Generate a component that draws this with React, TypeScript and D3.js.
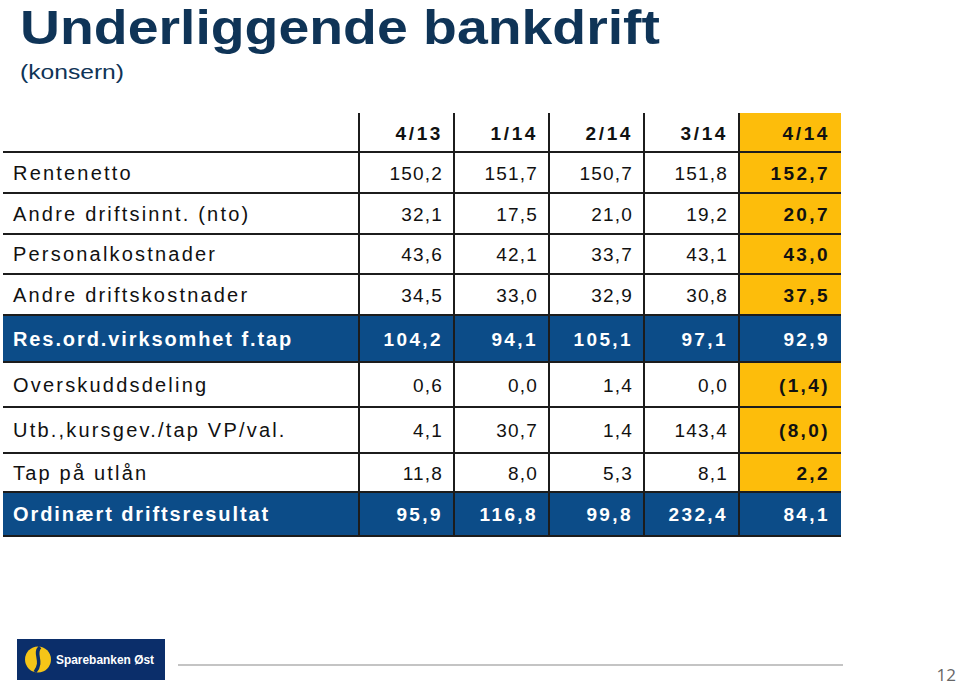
import React from "react";
import * as d3 from "d3";

const periods = ["4/13", "1/14", "2/14", "3/14", "4/14"];
const rowLabels = [
  "Rentenetto",
  "Andre driftsinnt. (nto)",
  "Personalkostnader",
  "Andre driftskostnader",
  "Res.ord.virksomhet f.tap",
  "Overskuddsdeling",
  "Utb.,kursgev./tap VP/val.",
  "Tap på utlån",
  "Ordinært driftsresultat",
];
const q413 = ["150,2", "32,1", "43,6", "34,5", "104,2", "0,6", "4,1", "11,8", "95,9"];
const q114 = ["151,7", "17,5", "42,1", "33,0", "94,1", "0,0", "30,7", "8,0", "116,8"];
const q214 = ["150,7", "21,0", "33,7", "32,9", "105,1", "1,4", "1,4", "5,3", "99,8"];
const q314 = ["151,8", "19,2", "43,1", "30,8", "97,1", "0,0", "143,4", "8,1", "232,4"];
const q414 = ["152,7", "20,7", "43,0", "37,5", "92,9", "(1,4)", "(8,0)", "2,2", "84,1"];
const highlightRows = [false, false, false, false, true, false, false, false, true];

const seriesCols = [q413, q114, q214, q314, q414];

// layout (pixels)
const rowHeights = [39, 41, 41, 40, 41, 47, 45, 46, 39, 44];
const colWidths = [95, 95, 95, 95, 102];

const NAVY = "#0c4c88";
const YELLOW = "#fdbd0b";
const TITLE = "#0f3457";
const LINE = "#1c1c1c";

export default function App() {
  const W = 959, H = 687;
  const tableLeft = 3;
  const labelRight = 359;
  const top = 113;

  const xs: number[] = [labelRight];
  colWidths.forEach((w) => xs.push(xs[xs.length - 1] + w));
  const tableRight = xs[xs.length - 1];
  const x = d3.scaleOrdinal<number, number>().domain(d3.range(periods.length + 1)).range(xs);
  const colW = (j: number) => colWidths[j];
  const lastColX = x(periods.length - 1);

  const ys: number[] = [top];
  rowHeights.forEach((h) => ys.push(ys[ys.length - 1] + h));
  const bottom = ys[ys.length - 1];

  const font = "'Liberation Sans', Arial, sans-serif";

  return (
    <svg width={W} height={H} style={{ position: "absolute", left: 0, top: 0, background: "#fff" }}>
      <rect x={0} y={0} width={W} height={H} fill="#fff" />
      <text x={20} y={44} fontFamily={font} fontWeight="bold" fontSize={49} fill={TITLE} textLength={640} lengthAdjust="spacingAndGlyphs">
        Underliggende bankdrift
      </text>
      <text x={20} y={79} fontFamily={font} fontSize={20} fill={TITLE} textLength={104} lengthAdjust="spacingAndGlyphs">
        (konsern)
      </text>

      {/* yellow highlight column */}
      <rect x={lastColX} y={top} width={colW(periods.length - 1)} height={bottom - top} fill={YELLOW} />

      {/* blue rows */}
      {rowLabels.map((_, i) =>
        highlightRows[i] ? (
          <rect key={"b" + i} x={tableLeft} y={ys[i + 1]} width={tableRight - tableLeft} height={rowHeights[i + 1]} fill={NAVY} />
        ) : null
      )}

      {/* horizontal lines */}
      {ys.slice(1).map((y, i) => (
        <line key={"h" + i} x1={tableLeft} x2={tableRight} y1={y} y2={y} stroke={LINE} strokeWidth={2} />
      ))}

      {/* vertical lines */}
      {periods.map((_, j) => (
        <line key={"v" + j} x1={x(j)} x2={x(j)} y1={top} y2={bottom} stroke={LINE} strokeWidth={2} />
      ))}

      {/* header */}
      {periods.map((p, j) => (
        <text key={"p" + j} x={x(j) + colW(j) - 11} y={top + rowHeights[0] / 2 + 7} textAnchor="end" fontFamily={font} fontWeight="bold" fontSize={19} letterSpacing={2.6} fill="#111">
          {p}
        </text>
      ))}

      {/* rows */}
      {rowLabels.map((lab, i) => {
        const y0 = ys[i + 1];
        const cy = y0 + rowHeights[i + 1] / 2 + 7;
        const hl = highlightRows[i];
        return (
          <g key={"r" + i}>
            <text x={13} y={cy} fontFamily={font} fontSize={20} fontWeight={hl ? "bold" : "normal"} letterSpacing={hl ? 1.9 : 2.2} fill={hl ? "#fff" : "#111"}>
              {lab}
            </text>
            {seriesCols.map((col, j) => {
              const bold = hl || j === periods.length - 1;
              return (
                <text
                  key={j}
                  x={x(j) + colW(j) - 11}
                  y={cy}
                  textAnchor="end"
                  fontFamily={font}
                  fontSize={19}
                  fontWeight={bold ? "bold" : "normal"}
                  letterSpacing={bold ? 2.4 : 1.2}
                  fill={hl ? "#fff" : "#111"}
                >
                  {col[i]}
                </text>
              );
            })}
          </g>
        );
      })}

      {/* footer */}
      <rect x={17} y={639} width={148} height={41} fill="#0b2e6a" />
      <circle cx={38} cy={659.5} r={13} fill="#f5c518" />
      <path d="M40,647 C33,654 44,661 35,672" stroke="#0b2e6a" strokeWidth={3.5} fill="none" />
      <text x={56} y={664} fontFamily={font} fontSize={13} fontWeight="bold" fill="#fff" textLength={98} lengthAdjust="spacingAndGlyphs">Sparebanken Øst</text>
      <line x1={178} x2={843} y1={665} y2={665} stroke="#b0b0b0" strokeWidth={1.5} />
      <text x={956} y={681} textAnchor="end" fontFamily="'Open Sans', sans-serif" fontSize={17} fill="#666">12</text>
    </svg>
  );
}
